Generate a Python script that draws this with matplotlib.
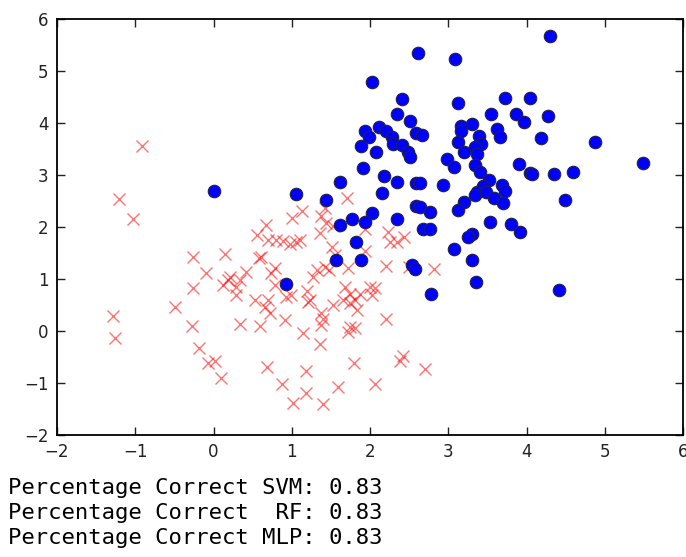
import matplotlib
matplotlib.use("Agg")
import matplotlib.pyplot as plt

# class 1 (blue circles)
blue_x = [4.30, 2.61, 3.08, 2.03, 2.41, 3.13, 3.73, 4.04, 2.35, 2.51,
          3.54, 3.87, 3.97, 4.27, 3.30, 3.16, 3.16, 3.62, 3.66, 3.39,
          3.42, 3.34, 3.37, 3.13, 3.20, 4.18, 4.87, 5.49, 1.94, 1.99,
          1.89, 2.11, 2.21, 2.28, 2.30, 2.41, 2.49, 2.51, 2.59, 2.66,
          2.08, 1.91, 2.18, 2.35, 2.15, 2.59, 2.64, 2.93, 2.99, 3.07,
          3.34, 3.40, 3.91, 4.04, 4.07, 4.35, 4.59, 3.52, 3.44, 3.37,
          3.34, 3.48, 3.69, 3.73, 3.58, 3.70, 3.20, 3.13, 4.49, 2.59,
          2.64, 2.77, 2.02, 1.77, 1.94, 1.62, 2.35, 3.53, 3.80, 1.62,
          2.68, 2.77, 3.92, 1.82, 1.89, 3.30, 3.25, 3.07, 3.30, 2.54,
          2.57, 3.35, 2.78, 4.42, 1.56, 0.93, 0.01, 1.06, 1.44]
blue_y = [5.67, 5.35, 5.24, 4.78, 4.46, 4.38, 4.49, 4.49, 4.17, 4.03,
          4.17, 4.17, 4.02, 4.13, 3.99, 3.94, 3.85, 3.88, 3.74, 3.75,
          3.60, 3.54, 3.40, 3.63, 3.45, 3.71, 3.63, 3.23, 3.85, 3.74,
          3.56, 3.93, 3.85, 3.74, 3.59, 3.57, 3.45, 3.34, 3.81, 3.77,
          3.45, 3.13, 2.99, 2.87, 2.66, 2.84, 2.84, 2.81, 3.31, 3.16,
          3.20, 3.05, 3.21, 3.03, 3.02, 3.02, 3.05, 2.90, 2.78, 2.68,
          2.62, 2.68, 2.81, 2.69, 2.55, 2.47, 2.49, 2.33, 2.52, 2.41,
          2.39, 2.29, 2.26, 2.15, 2.09, 2.87, 2.15, 2.09, 2.06, 2.04,
          1.97, 1.97, 1.90, 1.72, 1.37, 1.87, 1.80, 1.58, 1.37, 1.26,
          1.19, 0.94, 0.72, 0.79, 1.37, 0.90, 2.69, 2.63, 2.52]

# class 0 (red crosses)
red_x = [-0.92, -1.21, -1.03, 0.67, 1.00, 1.13, 1.38, 1.42, 1.70, -1.28,
         -1.26, -0.49, -0.26, -0.10, -0.26, -0.28, -0.18, -0.07, 0.02, 0.10,
         0.15, 0.55, 0.58, 0.61, 0.34, 0.60, 0.92, 0.68, 0.87, 1.01,
         1.18, 1.18, 1.15, 1.36, 1.40, 1.59, 0.12, 0.19, 0.29, 0.34,
         0.29, 0.41, 0.21, 0.70, 0.80, 0.89, 0.98, 1.05, 0.78, 0.74,
         0.78, 0.93, 0.99, 0.53, 0.70, 0.66, 0.72, 1.44, 1.53, 1.36,
         1.10, 1.51, 1.55, 1.93, 1.93, 2.23, 2.25, 2.34, 2.44, 2.21,
         2.82, 1.32, 1.47, 1.42, 1.72, 1.27, 1.19, 1.23, 1.68, 1.74,
         1.66, 1.81, 1.87, 2.00, 2.02, 2.06, 1.53, 1.38, 1.83, 2.21,
         1.21, 1.40, 1.38, 1.74, 1.74, 1.81, 1.72, 1.79, 2.42, 2.38,
         2.70, 2.06, 2.50]
red_y = [3.56, 2.54, 2.15, 2.03, 2.17, 2.31, 2.21, 2.36, 2.56, 0.28,
         -0.14, 0.46, 1.43, 1.11, 0.82, 0.10, -0.32, -0.61, -0.57, -0.90,
         1.48, 1.85, 1.40, 1.42, 0.13, 0.10, 0.22, -0.69, -1.01, -1.39,
         -0.76, -1.19, -0.03, -0.25, -1.41, -1.07, 0.88, 0.98, 0.84, 0.98,
         0.69, 1.14, 1.03, 1.75, 1.75, 1.74, 1.67, 1.72, 1.21, 1.11,
         0.88, 0.66, 0.69, 0.60, 0.60, 0.47, 0.34, 2.07, 2.01, 1.88,
         1.75, 1.62, 1.46, 1.97, 1.53, 1.91, 1.72, 1.72, 1.80, 1.25,
         1.19, 1.17, 1.17, 1.23, 1.22, 1.04, 0.76, 0.60, 0.85, 0.72,
         0.60, 0.60, 0.72, 0.85, 0.69, 0.82, 0.50, 0.34, 0.40, 0.24,
         0.56, 0.24, 0.12, 0.53, 0.08, 0.05, -0.01, -0.61, -0.48, -0.58,
         -0.73, -1.01, 1.24]

models = ["SVM", " RF", "MLP"]
scores = [0.83, 0.83, 0.83]

fig = plt.figure(figsize=(6.86, 5.57), dpi=100)
ax = fig.add_axes([57/686, 1-435/557, 626/686, 416/557])

ax.plot(red_x, red_y, 'x', color='red', alpha=0.55, markersize=9, markeredgewidth=1.0)
ax.plot(blue_x, blue_y, 'o', color='blue', markeredgecolor='#222244',
        markeredgewidth=0.8, markersize=9)

ax.set_xlim(-2, 6)
ax.set_ylim(-2, 6)
ax.set_xticks(range(-2, 7))
ax.set_yticks(range(-2, 7))
ax.tick_params(direction='in', top=True, right=True, length=6, width=1,
               labelsize=12, pad=6, colors='#222222')
for s in ax.spines.values():
    s.set_linewidth(1.3)

for i in range(len(models)):
    fig.text(8/686, 1 - (488 + 25*i)/557,
             "Percentage Correct %s: %.2f" % (models[i], scores[i]),
             family='DejaVu Sans Mono', fontsize=16, va='center', ha='left')

fig.savefig("out.png", dpi=100)
